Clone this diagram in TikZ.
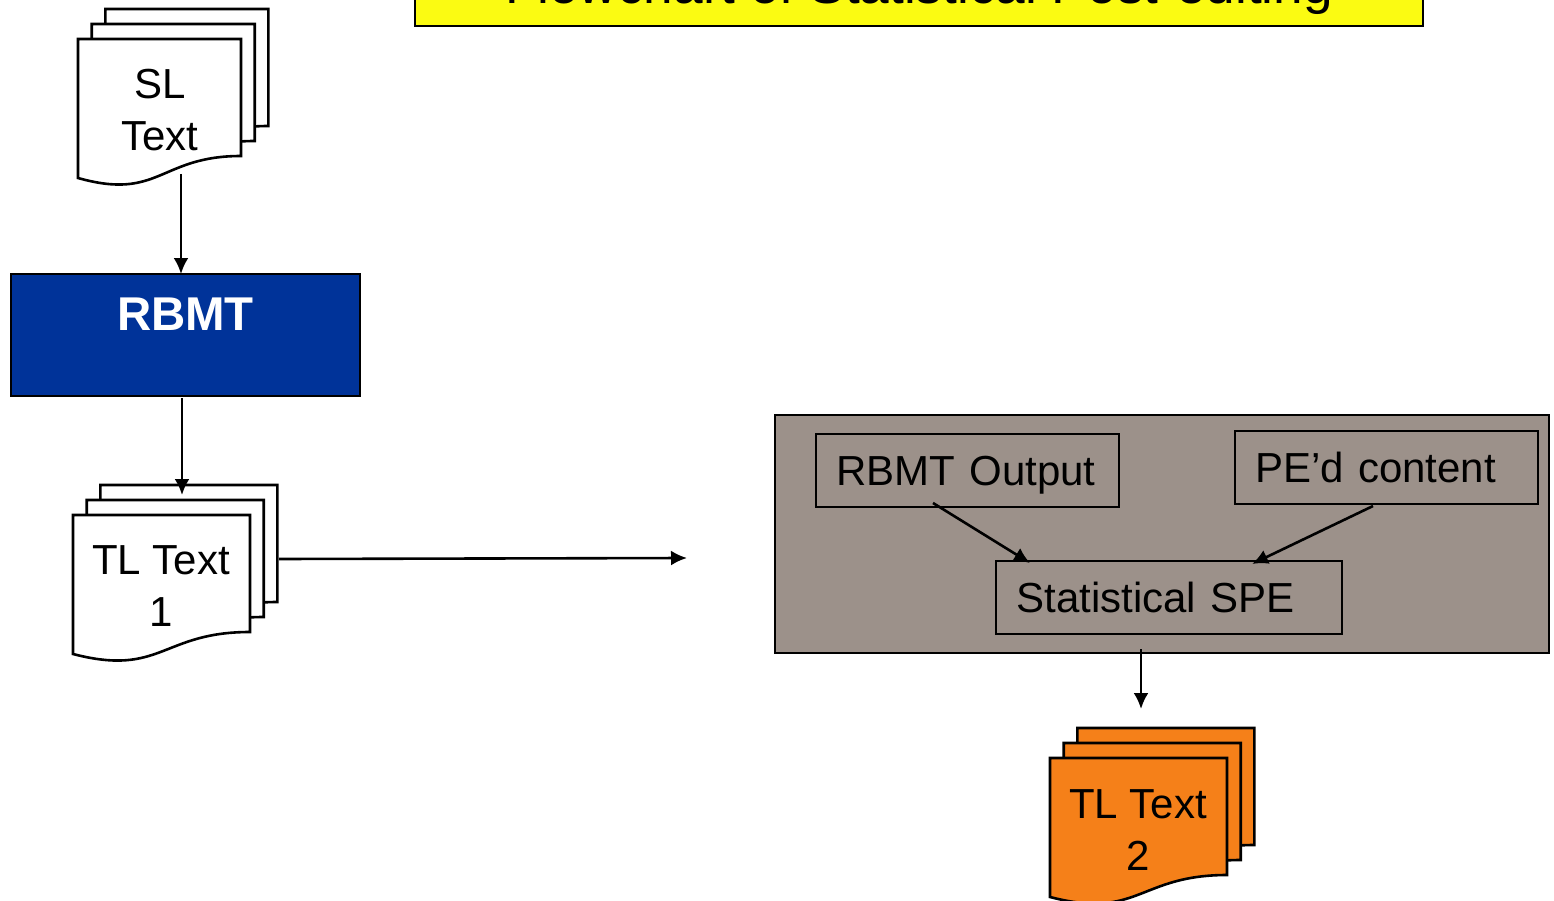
\documentclass[tikz,border=0pt]{standalone}
\usepackage{fontspec}
\setmainfont{Liberation Sans}
\usetikzlibrary{arrows.meta}
\definecolor{titleyellow}{HTML}{FBFB12}
\definecolor{rbmtblue}{HTML}{003399}
\definecolor{spegray}{HTML}{9C918A}
\definecolor{docorange}{HTML}{F58019}
\tikzset{
  line/.style={line width=2.6pt,draw=black,outer sep=0pt},
  conn/.style={line width=2.6pt,-{Latex[length=16pt,width=15pt]}},
  doctext/.style={align=center,font=\fontsize{42}{51.5}\selectfont,inner sep=0pt},
  spebox/.style={line,anchor=north west,align=left,font=\fontsize{42}{52}\selectfont,
    inner xsep=20.5pt,inner ysep=0pt,text height=51pt,text depth=22pt}
}
% one stack of three pages: left, top, width, height, fill
\newcommand{\docstack}[5]{
  \foreach \i in {2,1,0}{
    \pgfmathsetmacro{\xl}{#1+\i*13.7}
    \pgfmathsetmacro{\yt}{#2-\i*15}
    \draw[line,fill=#5] (\xl,\yt) -- ++(#3,0) -- ++(0,#4)
      .. controls ({\xl+#3/2},{\yt+#4}) and ({\xl+#3/2},{\yt+#4+45}) .. (\xl,{\yt+#4+22}) -- cycle;
  }
}

\begin{document}
\begin{tikzpicture}[x=1pt,y=-1pt]
  \clip (0,0) rectangle (1554,901);

  \node[line,fill=titleyellow,anchor=base,inner sep=0pt,minimum width=1008pt,
    text height=50pt,text depth=22.5pt,font=\fontsize{53.2}{60}\selectfont] (title) at (919,3.5)
    {Flowchart of Statistical Post-editing};

  % source pages
  \docstack{78}{39}{163}{117}{white}
  \node[doctext] (sltext) at (160,110) {SL\\Text};
  \coordinate (slout) at (181,174);

  \node[line,fill=rbmtblue,text=white,anchor=north west,inner xsep=0pt,inner ysep=0pt,
    minimum width=349pt,text height=56pt,text depth=66pt,
    font=\bfseries\fontsize{47.4}{52}\selectfont] (rbmt) at (11,274) {RBMT};
  \coordinate (rbmtin) at (181,274);
  \coordinate (rbmtout) at (182,398);

  % first target pages
  \docstack{73}{515}{177}{117}{white}
  \node[doctext] (tltexta) at (161,586) {TL Text\\1};
  \coordinate (tlain) at (182,495);
  \coordinate (tlaout) at (279,559);
  \coordinate (speleft) at (687,558);

  \draw[conn] (slout) -- (rbmtin);
  \draw[conn] (rbmtout) -- (tlain);
  \draw[conn] (tlaout) -- (speleft);

  % post-editing block
  \node[line,fill=spegray,anchor=north west,inner sep=0pt,minimum width=774pt,minimum height=238pt]
    (speblock) at (775,415) {};
  \node[spebox,text width=262pt] (rbmtoutput) at (816,434) {RBMT Output};
  \node[spebox,text width=262pt] (pecontent) at (1235,431) {PE’d content};
  \node[spebox,text width=305pt] (stat) at (996,561) {Statistical SPE};

  \coordinate (rbmtoutputs) at (933,503);
  \coordinate (statl) at (1030,563);
  \coordinate (pecontents) at (1373,506);
  \coordinate (statr) at (1252,564);
  \draw[conn] (rbmtoutputs) -- (statl);
  \draw[conn] (pecontents) -- (statr);

  \coordinate (blockout) at (1141,649);
  \coordinate (tlbin) at (1141,709);
  \draw[conn] (blockout) -- (tlbin);

  % second target pages
  \docstack{1050}{758}{177}{117}{docorange}
  \node[doctext] (tltextb) at (1138,830) {TL Text\\2};
\end{tikzpicture}
\end{document}
